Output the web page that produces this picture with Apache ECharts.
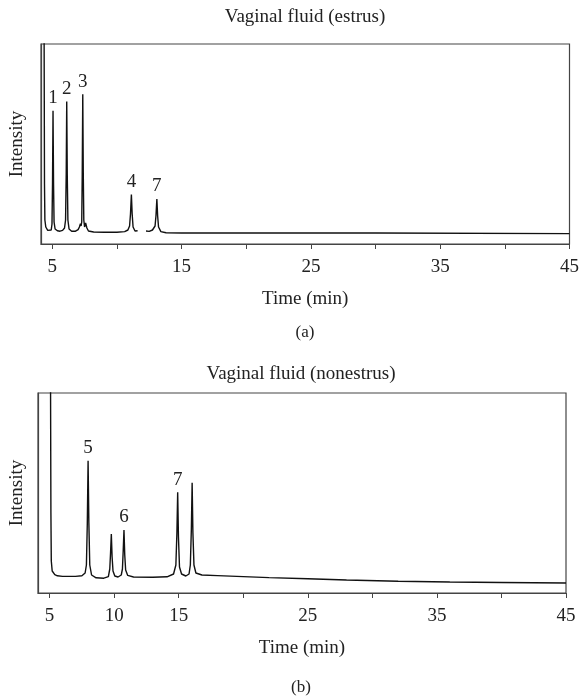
<!DOCTYPE html>
<html>
<head>
<meta charset="utf-8">
<script src="https://cdn.jsdelivr.net/npm/echarts@6/dist/echarts.min.js"></script>
<style>
  html, body { margin: 0; padding: 0; background: #fff; }
  #chart { width: 582px; height: 698px; }
</style>
</head>
<body>
<div id="chart"></div>
<script>
// (a) estrus trace: [time (min), intensity]
const estrusTrace = [
  [4.15, 130], [4.36, 130], [4.40, 30], [4.43, 12], [4.5, 8.5], [4.65, 6.8], [4.8, 6.5],
  [4.92, 7], [4.98, 10], [5.02, 30], [5.06, 66.6], [5.1, 30], [5.14, 11], [5.22, 7.5], [5.4, 6.6], [5.6, 6.4], [5.8, 6.8],
  [5.95, 8], [6.03, 12], [6.08, 35], [6.12, 71.2], [6.16, 35], [6.21, 12], [6.3, 7.5], [6.5, 6.4], [6.8, 6.4], [7.0, 7.2],
  [7.1, 8.5], [7.18, 10.2], [7.23, 9],
  [7.28, 11], [7.32, 35], [7.36, 74.9], [7.40, 35], [7.44, 12], [7.5, 8.5], [7.58, 10.5], [7.62, 11], [7.68, 8],
  [7.8, 6.5], [8.2, 6.0], [9, 5.9], [10, 5.9], [10.6, 6.2], [10.85, 7],
  [10.98, 9], [11.05, 15], [11.12, 24.7], [11.18, 15], [11.25, 8.5], [11.4, 6.5], [11.6, 6.6],
  [11.9, null],
  [12.25, 6.5], [12.5, 6.3], [12.75, 7],
  [12.95, 9], [13.02, 14], [13.09, 22.5], [13.15, 14], [13.22, 8.5], [13.4, 6.2], [13.8, 5.6],
  [15, 5.5], [20, 5.5], [30, 5.5], [45, 5.2]
];
const estrusPeaks = [[5.06, '1'], [6.12, '2'], [7.36, '3'], [11.12, '4'], [13.09, '7']];

// (b) nonestrus trace
const nonestrusTrace = [
  [5.06, 130], [5.1, 40], [5.13, 16], [5.2, 11], [5.4, 9.2], [5.6, 8.6], [6, 8.3], [7, 8.3], [7.5, 8.6], [7.75, 10],
  [7.85, 14], [7.92, 35], [7.98, 66.1], [8.04, 35], [8.11, 14], [8.25, 9], [8.6, 7.6], [9.2, 7.4], [9.55, 8.2],
  [9.66, 12], [9.72, 20], [9.78, 29.5], [9.84, 18], [9.91, 11], [10.05, 8.5], [10.3, 8.0], [10.55, 9],
  [10.64, 12], [10.70, 21], [10.76, 31.5], [10.82, 19], [10.89, 11.5], [11.05, 8.8], [11.5, 8.0], [13, 7.9], [14.1, 8.1], [14.6, 9.5],
  [14.78, 14], [14.86, 30], [14.92, 50.4], [14.98, 28], [15.06, 13], [15.22, 9.5], [15.55, 8.5], [15.8, 9.5],
  [15.9, 14], [15.98, 32], [16.04, 55.1], [16.1, 30], [16.18, 14], [16.33, 10], [16.8, 9], [18, 8.7],
  [20, 8.2], [22, 7.7], [25, 7.1], [28, 6.5], [32, 5.9], [36, 5.5], [40, 5.25], [45, 5.0]
];
const nonestrusPeaks = [[7.98, '5'], [10.76, '6'], [14.92, '7']];

const tickValues = [5, 10, 15, 20, 25, 30, 35, 40, 45];
const labelsA = [5, 15, 25, 35, 45];
const labelsB = [5, 10, 15, 25, 35, 45];

const FONT = 'Liberation Serif';
const TXT = '#222';

function peakMarks(trace, peaks) {
  return peaks.map(pk => {
    const apex = trace.find(p => p[0] === pk[0]);
    return { coord: apex, value: pk[1] };
  });
}

function xAxisFor(idx, min, labels) {
  return {
    gridIndex: idx, type: 'value', min: min, max: 45,
    name: 'Time (min)', nameLocation: 'middle', nameGap: 46,
    nameTextStyle: { fontFamily: FONT, fontSize: 19, color: TXT },
    axisLine: { lineStyle: { color: '#444', width: 1.2 } },
    axisTick: { show: true, length: 5, customValues: tickValues, lineStyle: { color: '#444' } },
    axisLabel: { customValues: labels, margin: 14, fontFamily: FONT, fontSize: 19, color: TXT },
    splitLine: { show: false }
  };
}

function yAxisFor(idx, gap) {
  return {
    gridIndex: idx, type: 'value', min: 0, max: 100,
    name: 'Intensity', nameLocation: 'middle', nameGap: gap,
    nameTextStyle: { fontFamily: FONT, fontSize: 19, color: TXT },
    axisLine: { show: true, lineStyle: { color: '#444', width: 1.2 } },
    axisTick: { show: false }, axisLabel: { show: false }, splitLine: { show: false }
  };
}

function traceSeries(idx, trace, peaks) {
  return {
    type: 'line', xAxisIndex: idx, yAxisIndex: idx, data: trace,
    symbol: 'none', showSymbol: false, connectNulls: false, clip: true,
    lineStyle: { color: '#111', width: 1.4 },
    markPoint: {
      symbol: 'circle', symbolSize: 0, silent: true,
      label: { show: true, position: 'top', distance: 3, formatter: '{c}',
               fontFamily: FONT, fontSize: 19, color: TXT },
      data: peakMarks(trace, peaks)
    }
  };
}

const chart = echarts.init(document.getElementById('chart'));
chart.setOption({
  animation: false,
  grid: [
    { left: 40, top: 44, width: 530, height: 200, show: true, borderColor: '#444', borderWidth: 1.2 },
    { left: 36, top: 393, width: 530, height: 200, show: true, borderColor: '#444', borderWidth: 1.2 }
  ],
  xAxis: [xAxisFor(0, 4.13, labelsA), xAxisFor(1, 4.1, labelsB)],
  yAxis: [yAxisFor(0, 14), yAxisFor(1, 11)],
  series: [
    traceSeries(0, estrusTrace, estrusPeaks),
    traceSeries(1, nonestrusTrace, nonestrusPeaks)
  ],
  graphic: [
    { type: 'text', x: 305, y: 17, style: { text: 'Vaginal fluid (estrus)', font: '19px "Liberation Serif"', fill: TXT, textAlign: 'center', textVerticalAlign: 'middle' } },
    { type: 'text', x: 305, y: 333, style: { text: '(a)', font: '17px "Liberation Serif"', fill: TXT, textAlign: 'center', textVerticalAlign: 'middle' } },
    { type: 'text', x: 301, y: 374, style: { text: 'Vaginal fluid (nonestrus)', font: '19px "Liberation Serif"', fill: TXT, textAlign: 'center', textVerticalAlign: 'middle' } },
    { type: 'text', x: 301, y: 688, style: { text: '(b)', font: '17px "Liberation Serif"', fill: TXT, textAlign: 'center', textVerticalAlign: 'middle' } }
  ]
});
</script>
</body>
</html>
